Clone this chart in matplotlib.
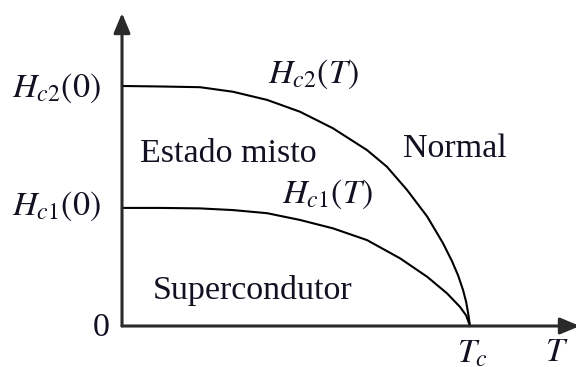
import matplotlib
matplotlib.use("Agg")
import matplotlib.pyplot as plt

plt.rcParams['font.family'] = ['Liberation Serif', 'DejaVu Serif']
plt.rcParams['mathtext.fontset'] = 'stix'

# curves: T/Tc and H/Hc2(0)
t_hc2 = [0.0, 0.109, 0.224, 0.319, 0.417, 0.511, 0.606, 0.704, 0.761, 0.819,
         0.877, 0.922, 0.948, 0.966, 0.980, 0.989, 0.995, 1.0]
h_hc2 = [1.0, 0.998, 0.995, 0.976, 0.942, 0.893, 0.824, 0.733, 0.664, 0.567,
         0.456, 0.346, 0.271, 0.210, 0.150, 0.100, 0.050, 0.0]

t_hc1 = [0.0, 0.109, 0.224, 0.319, 0.417, 0.511, 0.606, 0.704, 0.799, 0.877,
         0.934, 0.971, 0.989, 1.0]
h_hc1 = [0.492, 0.492, 0.490, 0.483, 0.470, 0.442, 0.407, 0.358, 0.282, 0.205,
         0.136, 0.080, 0.044, 0.0]

hc2_0 = h_hc2[0]
hc1_0 = h_hc1[0]

fig = plt.figure(figsize=(5.76, 3.67), dpi=100)
ax = fig.add_axes([0, 0, 1, 1])
ax.set_xlim(-0.3506, 1.3046)
ax.set_ylim(-0.1708, 1.3583)
ax.axis('off')

axis_col = '#2a2a2a'
txt_col = '#111122'
fs = 24.5

# axes with arrows
arr = dict(arrowstyle='-|>,head_length=0.6,head_width=0.25', lw=2.2,
           color=axis_col, mutation_scale=20, shrinkA=0, shrinkB=0)
ax.annotate('', xy=(0, 1.304), xytext=(0, 0), arrowprops=arr, annotation_clip=False)
ax.annotate('', xy=(1.316, 0), xytext=(0, 0), arrowprops=arr, annotation_clip=False)

ax.plot(t_hc2, h_hc2, color='black', lw=1.5, solid_joinstyle='round')
ax.plot(t_hc1, h_hc1, color='black', lw=1.5, solid_joinstyle='round')

# labels
ax.text(-0.060, hc2_0 - 0.046, r'$H_{c2}(0)$', fontsize=fs, ha='right', va='baseline', color=txt_col)
ax.text(-0.060, hc1_0 - 0.030, r'$H_{c1}(0)$', fontsize=fs, ha='right', va='baseline', color=txt_col)
ax.text(-0.0345, -0.042, '0', fontsize=fs, ha='right', va='baseline', color=txt_col)
ax.text(0.4195, 1.0125, r'$H_{c2}(T)$', fontsize=fs, ha='left', va='baseline', color=txt_col)
ax.text(0.4598, 0.5125, r'$H_{c1}(T)$', fontsize=fs, ha='left', va='baseline', color=txt_col)
ax.text(0.0517, 0.683, 'Estado misto', fontsize=fs, ha='left', va='baseline', color=txt_col)
ax.text(0.8075, 0.704, 'Normal', fontsize=fs, ha='left', va='baseline', color=txt_col)
ax.text(0.089, 0.1125, 'Supercondutor', fontsize=fs, ha='left', va='baseline', color=txt_col)
ax.text(0.9626, -0.154, r'$T_c$', fontsize=fs, ha='left', va='baseline', color=txt_col)
ax.text(1.2155, -0.145, r'$T$', fontsize=fs, ha='left', va='baseline', color=txt_col)

fig.savefig('out.png', dpi=100)
